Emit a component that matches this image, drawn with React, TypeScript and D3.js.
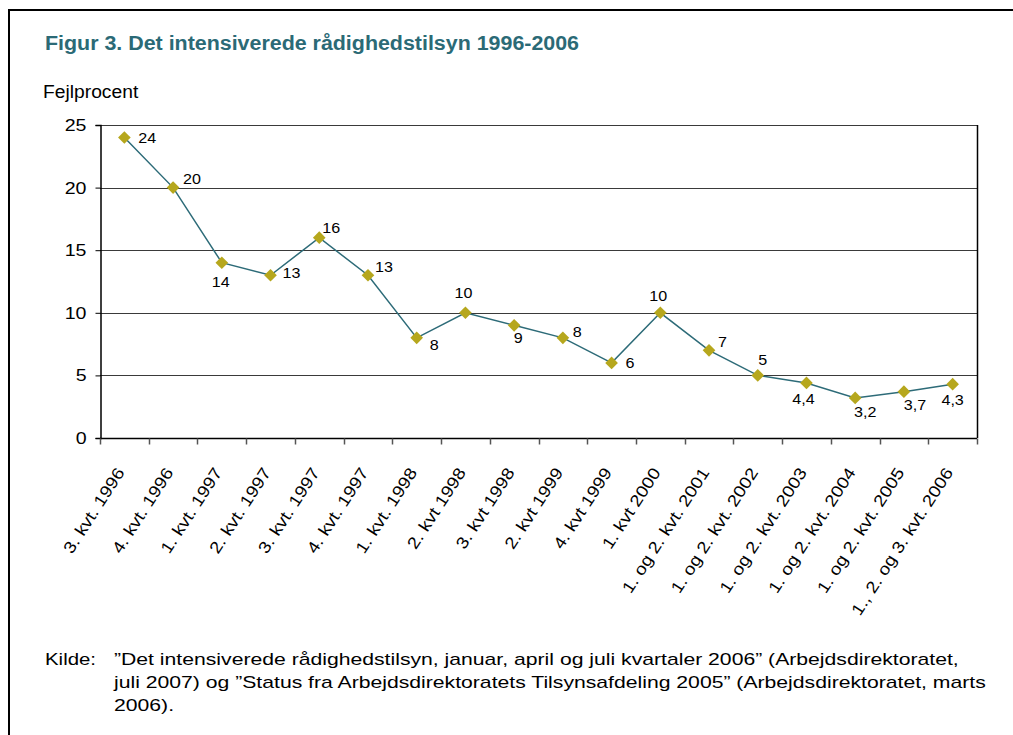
import React, { useEffect, useRef } from 'react';
import * as d3 from 'd3';

const categories = [
  '3. kvt. 1996', '4. kvt. 1996', '1. kvt. 1997', '2. kvt. 1997', '3. kvt. 1997',
  '4. kvt. 1997', '1. kvt. 1998', '2. kvt 1998', '3. kvt 1998', '2. kvt 1999',
  '4. kvt 1999', '1. kvt 2000', '1. og 2. kvt. 2001', '1. og 2. kvt. 2002',
  '1. og 2. kvt. 2003', '1. og 2. kvt. 2004', '1. og 2. kvt. 2005', '1., 2. og 3. kvt. 2006',
];
const values = [24, 20, 14, 13, 16, 13, 8, 10, 9, 8, 6, 10, 7, 5, 4.4, 3.2, 3.7, 4.3];
const yTicks = [0, 5, 10, 15, 20, 25];

// label offset from its marker: [dx, dy (baseline), anchor]
const labelOffsets: [number, number, string][] = [
  [14, 5, 'start'], [10, -4, 'start'], [-1, 24, 'middle'], [12, 3, 'start'],
  [3, -5, 'start'], [7, -3, 'start'], [13, 12, 'start'], [-2, -15, 'middle'],
  [4, 18, 'middle'], [10, -1, 'start'], [14, 5, 'start'], [-2, -12, 'middle'],
  [9, -3, 'start'], [5, -10, 'middle'], [-3, 21, 'middle'], [10, 19, 'middle'],
  [11, 18, 'middle'], [0, 21, 'middle'],
];

const title = 'Figur 3. Det intensiverede rådighedstilsyn 1996-2006';
const yTitle = 'Fejlprocent';
const sourceLabel = 'Kilde:';
const sourceLines = [
  '\u201dDet intensiverede rådighedstilsyn, januar, april og juli kvartaler 2006\u201d (Arbejdsdirektoratet,',
  'juli 2007) og \u201dStatus fra Arbejdsdirektoratets Tilsynsafdeling 2005\u201d (Arbejdsdirektoratet, marts',
  '2006).',
];

const W = 1013;
const H = 735;
const FONT = '"Liberation Sans", Arial, sans-serif';

// widen a text node horizontally, the reference type runs wider than Arial
function stretch(sel: d3.Selection<SVGTextElement, any, any, any>, f: number) {
  sel.each(function () {
    const len = this.getComputedTextLength();
    d3.select(this).attr('textLength', len * f).attr('lengthAdjust', 'spacingAndGlyphs');
  });
}

export default function App() {
  const svgRef = useRef<SVGSVGElement>(null);

  useEffect(() => {
    if (!svgRef.current) return;
    const svg = d3.select(svgRef.current);
    svg.selectAll('*').remove();

    // outer frame (top and left edges)
    svg.append('line').attr('x1', 8).attr('x2', W).attr('y1', 10).attr('y2', 10)
      .attr('stroke', '#000').attr('stroke-width', 2);
    svg.append('line').attr('x1', 9).attr('x2', 9).attr('y1', 9).attr('y2', H)
      .attr('stroke', '#000').attr('stroke-width', 2);

    const t = svg.append('text').attr('x', 45).attr('y', 50)
      .style('font-family', FONT).style('font-size', '20px').style('font-weight', 'bold')
      .attr('fill', '#2b6a76').text(title);
    stretch(t, 1.07);

    const yt = svg.append('text').attr('x', 43).attr('y', 98)
      .style('font-family', FONT).style('font-size', '17.5px').attr('fill', '#000').text(yTitle);
    stretch(yt, 1.1);

    const left = 100, right = 977, top = 125, bottom = 438;

    const x = d3.scaleBand<string>().domain(categories).range([left, right]);
    const y = d3.scaleLinear().domain([0, 25]).range([bottom, top]);

    // gridlines
    svg.append('g').selectAll('line').data(yTicks.filter(v => v > 0)).enter().append('line')
      .attr('x1', left).attr('x2', right)
      .attr('y1', d => Math.round(y(d)) + 0.5).attr('y2', d => Math.round(y(d)) + 0.5)
      .attr('stroke', '#3a3a3a').attr('stroke-width', 1);

    // right frame of plot
    svg.append('line').attr('x1', right + 0.5).attr('x2', right + 0.5)
      .attr('y1', top).attr('y2', bottom).attr('stroke', '#000').attr('stroke-width', 1.5);

    // y axis
    const yAxis = svg.append('g').attr('transform', `translate(${left + 0.5},0)`)
      .call(d3.axisLeft(y).tickValues(yTicks).tickSize(5).tickPadding(9));
    yAxis.select('.domain').attr('stroke', '#000').attr('stroke-width', 1.5);
    yAxis.selectAll('.tick line').attr('stroke', '#000');
    const ytl = yAxis.selectAll<SVGTextElement, number>('text')
      .style('font-family', FONT).style('font-size', '17px').attr('fill', '#000');
    stretch(ytl, 1.15);

    // x axis with ticks at band edges
    const xAxis = svg.append('g').attr('transform', `translate(0,${bottom + 0.5})`);
    xAxis.append('line').attr('x1', left).attr('x2', right).attr('stroke', '#000').attr('stroke-width', 1.5);
    const edges = categories.map(c => x(c) as number).concat([right]);
    xAxis.selectAll('line.tk').data(edges).enter().append('line').attr('class', 'tk')
      .attr('x1', d => Math.round(d) + 0.5).attr('x2', d => Math.round(d) + 0.5)
      .attr('y1', 0).attr('y2', 6).attr('stroke', '#555').attr('stroke-width', 1.5);
    const xl = xAxis.selectAll<SVGTextElement, string>('text.xl').data(categories).enter().append('text')
      .attr('class', 'xl')
      .attr('transform', d => `translate(${(x(d) as number) + x.bandwidth() / 2 + 1},${34}) rotate(-57)`)
      .attr('text-anchor', 'end')
      .style('font-family', FONT).style('font-size', '16.5px').attr('fill', '#000')
      .text(d => d);
    stretch(xl, 1.15);

    const cx = (i: number) => (x(categories[i]) as number) + x.bandwidth() / 2;

    const line = d3.line<number>().x((_, i) => cx(i)).y(d => y(d));
    svg.append('path').datum(values).attr('d', line)
      .attr('fill', 'none').attr('stroke', '#2d6b78').attr('stroke-width', 1.5);

    const diamond = d3.symbol().type(d3.symbolSquare).size(80);
    svg.append('g').selectAll('path').data(values).enter().append('path')
      .attr('d', diamond)
      .attr('transform', (d, i) => `translate(${cx(i)},${y(d)}) rotate(45)`)
      .attr('fill', '#b6a71d');

    const vl = svg.append('g').selectAll<SVGTextElement, number>('text').data(values).enter().append('text')
      .attr('x', (d, i) => cx(i) + labelOffsets[i][0])
      .attr('y', (d, i) => y(d) + labelOffsets[i][1])
      .attr('text-anchor', (d, i) => labelOffsets[i][2])
      .style('font-family', FONT).style('font-size', '14px').attr('fill', '#000')
      .text(d => String(d).replace('.', ','));
    stretch(vl, 1.15);

    const src = svg.append('g').style('font-family', FONT).style('font-size', '17px').attr('fill', '#000');
    const k = src.append('text').attr('x', 45).attr('y', 665).text(sourceLabel);
    stretch(k, 1.2);
    sourceLines.forEach((s, i) => {
      const ln = src.append('text').attr('x', 114).attr('y', 665 + i * 23).text(s);
      stretch(ln, 1.245);
    });
  }, []);

  return (
    <div style={{ position: 'absolute', left: 0, top: 0, background: '#fff' }}>
      <svg ref={svgRef} width={W} height={H} style={{ display: 'block' }} />
    </div>
  );
}
